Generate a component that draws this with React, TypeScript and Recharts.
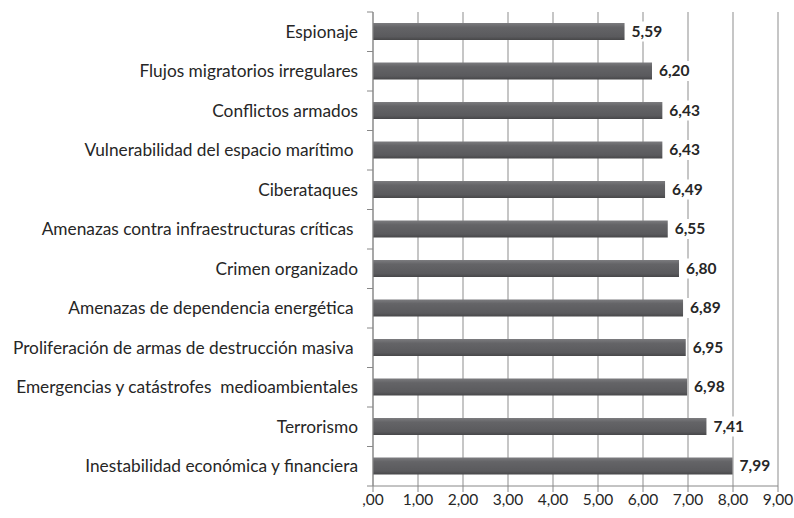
import React from 'react';
import { Bar, BarChart, CartesianGrid, LabelList, XAxis, YAxis } from 'recharts';

const categories = [
  'Espionaje',
  'Flujos migratorios irregulares',
  'Conflictos armados',
  'Vulnerabilidad del espacio marítimo ',
  'Ciberataques',
  'Amenazas contra infraestructuras críticas ',
  'Crimen organizado',
  'Amenazas de dependencia energética ',
  'Proliferación de armas de destrucción masiva ',
  'Emergencias y catástrofes  medioambientales',
  'Terrorismo',
  'Inestabilidad económica y financiera',
];

const scores = [5.59, 6.2, 6.43, 6.43, 6.49, 6.55, 6.8, 6.89, 6.95, 6.98, 7.41, 7.99];

const xTicks = [0, 1, 2, 3, 4, 5, 6, 7, 8, 9];

const data = categories.map((name, i) => ({ name, value: scores[i] }));

const W = 794;
const H = 518;
const MARGIN = { top: 12, right: 16, left: 0, bottom: 0 };
const Y_WIDTH = 373;
const X_HEIGHT = 32;
const PLOT_H = H - MARGIN.top - MARGIN.bottom - X_HEIGHT;
const BAND = PLOT_H / categories.length;
const AXIS_X = MARGIN.left + Y_WIDTH;
const FONT = 'Lato, "Open Sans", sans-serif';

const fmt = (v: number) => (v === 0 ? ',00' : v.toFixed(2).replace('.', ','));

const CategoryTick = ({ y, payload, index }: any) => (
  <g>
    <text
      x={AXIS_X - 15}
      y={y}
      dy="0.35em"
      textAnchor="end"
      fill="#262626"
      fontSize={17.3}
      fontFamily={FONT}
      style={{ whiteSpace: 'pre' }}
    >
      {payload.value}
    </text>
    <line x1={AXIS_X - 6} x2={AXIS_X} y1={y - BAND / 2} y2={y - BAND / 2} stroke="#888" />
    {index === categories.length - 1 && (
      <line x1={AXIS_X - 6} x2={AXIS_X} y1={y + BAND / 2} y2={y + BAND / 2} stroke="#888" />
    )}
  </g>
);

const ValueLabel = ({ x, y, width, height, value }: any) => {
  const lx = x + width + 3;
  const cy = y + height / 2;
  return (
    <g>
      <rect x={lx} y={cy - 10} width={36} height={20} fill="#fff" />
      <text
        x={lx + 4}
        y={cy}
        dy="0.35em"
        fill="#262626"
        fontSize={15.5}
        fontWeight="bold"
        fontFamily={FONT}
      >
        {fmt(value)}
      </text>
    </g>
  );
};

export default function App() {
  return (
    <div style={{ position: 'absolute', left: 0, top: 0, width: W, height: H, background: '#fff' }}>
      <BarChart width={W} height={H} data={data} layout="vertical" margin={MARGIN}>
        <defs>
          <linearGradient id="barGrad" x1="0" y1="0" x2="0" y2="1">
            <stop offset="0%" stopColor="#7c7c7f" />
            <stop offset="25%" stopColor="#646467" />
            <stop offset="80%" stopColor="#5a5a5d" />
            <stop offset="100%" stopColor="#474749" />
          </linearGradient>
        </defs>
        <CartesianGrid horizontal={false} stroke="#a0a0a0" strokeWidth={1.2} />
        <XAxis
          type="number"
          domain={[0, 9]}
          ticks={xTicks}
          tickFormatter={fmt}
          height={X_HEIGHT}
          stroke="#888"
          tickSize={6}
          tick={{ fill: '#262626', fontSize: 15.5, fontFamily: FONT }}
          interval={0}
        />
        <YAxis
          type="category"
          dataKey="name"
          width={Y_WIDTH}
          stroke="#888"
          tickLine={false}
          tick={<CategoryTick />}
          interval={0}
        />
        <Bar dataKey="value" barSize={17} fill="url(#barGrad)" isAnimationActive={false}>
          <LabelList dataKey="value" content={<ValueLabel />} />
        </Bar>
      </BarChart>
    </div>
  );
}
